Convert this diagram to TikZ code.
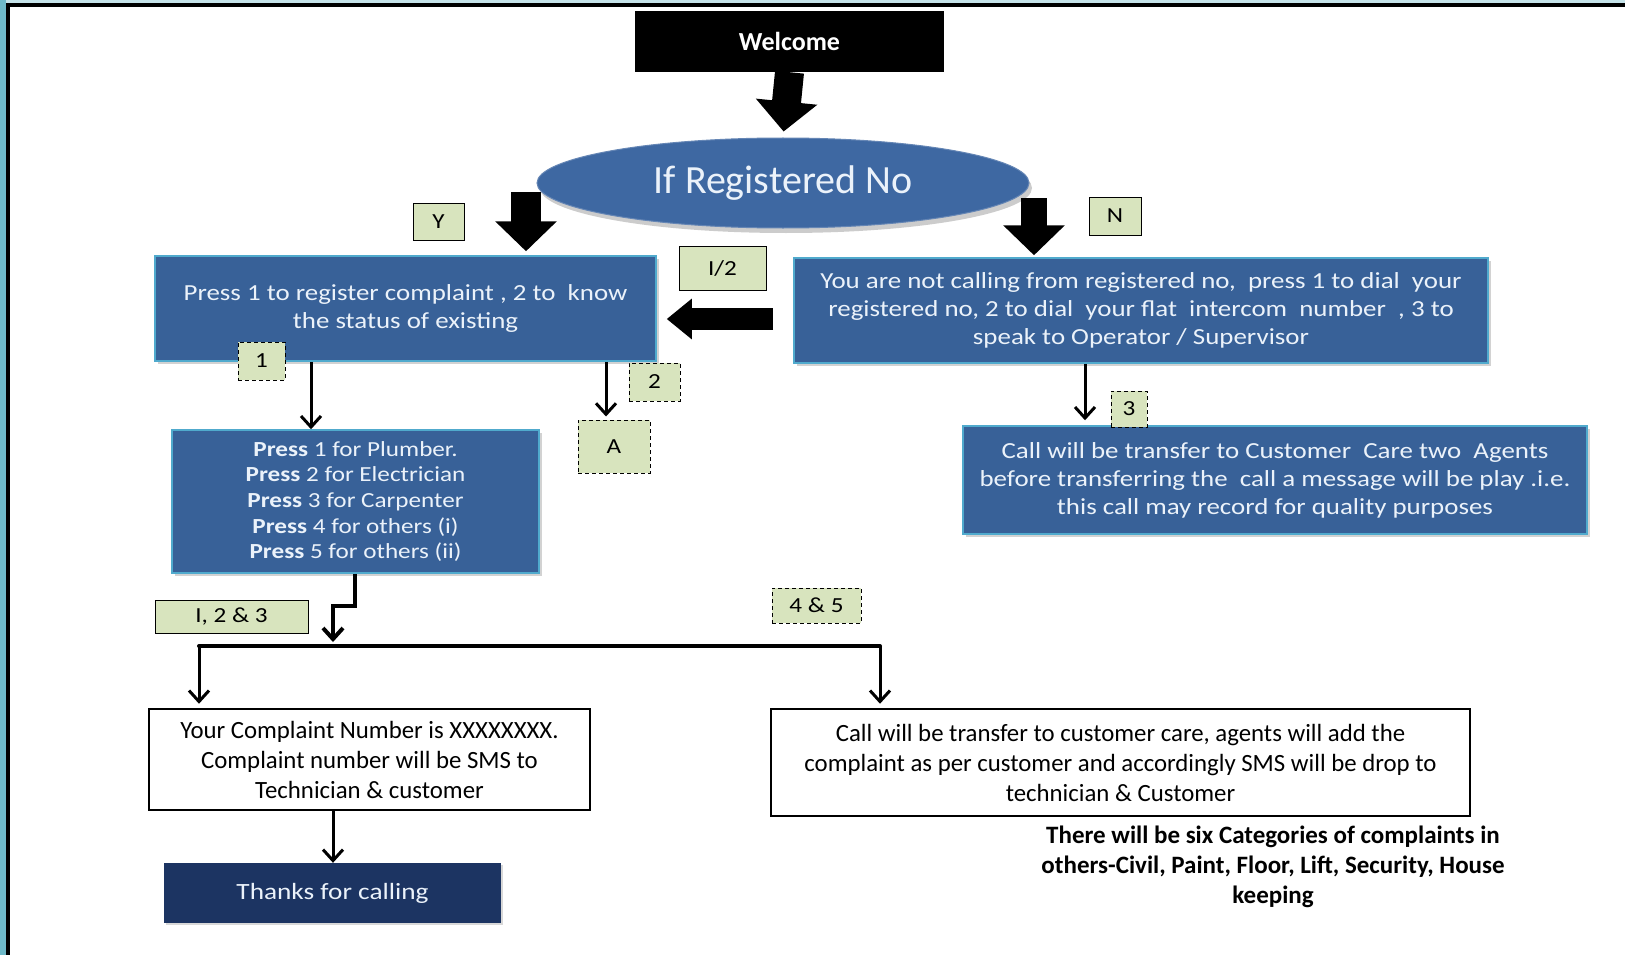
\documentclass[tikz,border=0pt]{standalone}
\usepackage{fontspec}
\setmainfont{Carlito}
\newfontfamily\wide[FakeStretch=1.17]{Carlito}
\usetikzlibrary{arrows.meta,shapes.geometric,shadows,calc}

\definecolor{boxblue}{RGB}{56,97,152}
\definecolor{boxedge}{RGB}{80,170,205}
\definecolor{ellblue}{RGB}{62,104,162}
\definecolor{navy}{RGB}{28,52,98}
\definecolor{lblgreen}{RGB}{216,228,190}
\definecolor{frameteal}{RGB}{110,185,200}
\definecolor{paletext}{RGB}{235,242,250}

\begin{document}
\begin{tikzpicture}[x=1pt,y=-1pt,
  bluebox/.style={rectangle, fill=boxblue, draw=boxedge, line width=1.5pt, text=paletext, align=center, inner sep=0pt,
    font=\wide\fontsize{23}{28}\selectfont, drop shadow={opacity=0.35,shadow xshift=3pt,shadow yshift=-3pt}},
  whitebox/.style={rectangle, draw=black, line width=2.5pt, fill=white, align=center, inner sep=0pt,
    font=\fontsize{24.8}{30}\selectfont},
  lbl/.style={rectangle, fill=lblgreen, draw=black, line width=1pt, inner sep=0pt, font=\wide\fontsize{21.5}{24}\selectfont},
  dlbl/.style={lbl, dash pattern=on 4pt off 3pt},
  blockarrow/.style={draw=black, line width=#1, -{Triangle[length=30pt,width=60pt]}},
  conn/.style={draw=black, line width=3pt, -{Straight Barb[length=11pt,width=20pt]}},
  bus/.style={draw=black, line width=4pt, line cap=round}
]
\useasboundingbox (0,0) rectangle (1625,955);
\fill[white] (0,0) rectangle (1625,955);
% frame
\fill[frameteal] (0,0) rectangle (6,955);
\fill[frameteal!40] (6,0) rectangle (1625,3);
\draw[line width=4pt] (8,955) -- (8,5) -- (1625,5);

% nodes
\node[rectangle, fill=black, text=white, minimum width=309pt, minimum height=61pt, inner sep=0pt,
  font=\bfseries\fontsize{26}{28}\selectfont] (welcome) at (789.5,41.5) {Welcome};

\node[ellipse, fill=ellblue, draw=ellblue!80!white, line width=1pt, minimum width=492pt, minimum height=90pt,
  text=paletext, font=\fontsize{40}{44}\selectfont,
  drop shadow={opacity=0.4,shadow xshift=3pt,shadow yshift=-5pt}] (ell) at (783,183) {If Registered No};

\node[bluebox, minimum width=501pt, minimum height=105pt] (lbox) at (405.5,308.5)
  {Press 1 to register complaint , 2 to~ know\\ the status of existing};
\node[bluebox, minimum width=694pt, minimum height=105pt] (rbox) at (1141,310.5)
  {You are not calling from registered no,~ press 1 to dial~ your\\ registered no, 2 to dial~ your flat~ intercom~ number~ , 3 to\\ speak to Operator / Supervisor};
\node[bluebox, minimum width=367pt, minimum height=143pt, font=\wide\fontsize{21.5}{25.6}\selectfont] (press) at (355.5,501.5)
  {\textbf{Press} 1 for Plumber.\\ \textbf{Press} 2 for Electrician\\ \textbf{Press} 3 for Carpenter\\ \textbf{Press} 4 for others (i)\\ \textbf{Press} 5 for others (ii)};
\node[bluebox, minimum width=624pt, minimum height=108pt] (call) at (1275,480)
  {Call will be transfer to Customer~ Care two~ Agents\\ before transferring the~ call a message will be play .i.e.\\ this call may record for quality purposes};
\node[whitebox, minimum width=441pt, minimum height=101pt] (compl) at (369.5,759.5)
  {Your Complaint Number is XXXXXXXX.\\ Complaint number will be SMS to\\ Technician \& customer};
\node[whitebox, minimum width=699pt, minimum height=107pt] (cc) at (1120.5,762.5)
  {Call will be transfer to customer care, agents will add the\\ complaint as per customer and accordingly SMS will be drop to\\ technician \& Customer};
\node[rectangle, fill=navy, text=paletext, minimum width=337pt, minimum height=60pt, inner sep=0pt,
  font=\wide\fontsize{23.3}{28}\selectfont, drop shadow={opacity=0.3,shadow xshift=2pt,shadow yshift=-2pt}] (thanks) at (332.5,893) {Thanks for calling};

\node[align=center, font=\bfseries\fontsize{25}{30}\selectfont] (note) at (1273,867)
  {There will be six Categories of complaints in\\ others-Civil, Paint, Floor, Lift, Security, House\\ keeping};

% labels
\node[lbl, minimum width=51pt, minimum height=37pt] (ly) at (438.5,221.5) {Y};
\node[lbl, minimum width=52pt, minimum height=38pt] (ln) at (1115,216) {N};
\node[lbl, minimum width=87pt, minimum height=44pt] (l12) at (722.5,268) {I/2};
\node[dlbl, minimum width=47pt, minimum height=38pt] (l1) at (261.5,361) {1};
\node[dlbl, minimum width=51pt, minimum height=38pt] (l2) at (654.5,382) {2};
\node[dlbl, minimum width=72pt, minimum height=53pt] (la) at (614,446.5) {A};
\node[dlbl, minimum width=36pt, minimum height=36pt] (l3) at (1129,409) {3};
\node[lbl, minimum width=153pt, minimum height=33pt] (l123) at (231.5,616.5) {I, 2 \& 3};
\node[dlbl, minimum width=89pt, minimum height=35pt] (l45) at (816.5,605.5) {4 \& 5};

% block arrows
\draw[blockarrow=29pt, shorten >=6pt] (welcome.south) -- (ell.north);
\coordinate (ytop) at (526,192);
\draw[blockarrow=30pt, shorten >=4pt] (ytop) -- (ytop |- lbox.north);
\coordinate (ntop) at (1034,198);
\draw[blockarrow=26pt, shorten >=2pt] (ntop) -- (ntop |- rbox.north);
\coordinate (htail) at (773,319);
\draw[draw=black, line width=22pt, -{Triangle[length=25pt,width=39pt]}, shorten >=10pt] (htail) -- (htail -| lbox.east);

% thin connectors
\coordinate (c1) at (311,0);
\draw[conn] (c1 |- lbox.south) -- (c1 |- press.north);
\coordinate (c2) at (606,0);
\draw[conn, shorten >=3pt] (c2 |- lbox.south) -- (c2 |- la.north);
\coordinate (c3) at (1085,0);
\draw[conn, shorten >=5pt] (c3 |- rbox.south) -- (c3 |- call.north);
\coordinate (busL) at (199,646);
\coordinate (busR) at (880,646);
\coordinate (elb) at (355,606);
\coordinate (elb2) at (333,606);
\draw[draw=black, line width=4pt, -{Straight Barb[length=11pt,width=20pt]}, shorten >=4pt]
  (elb |- press.south) -- (elb) -- (elb2) -- (elb2 |- busL);
\draw[bus] (busL) -- (busR);
\draw[conn, shorten >=4pt] (busL) -- (busL |- compl.north);
\draw[conn, shorten >=4pt] (busR) -- (busR |- cc.north);
\coordinate (c4) at (333,0);
\draw[conn] (c4 |- compl.south) -- (c4 |- thanks.north);
\end{tikzpicture}
\end{document}
